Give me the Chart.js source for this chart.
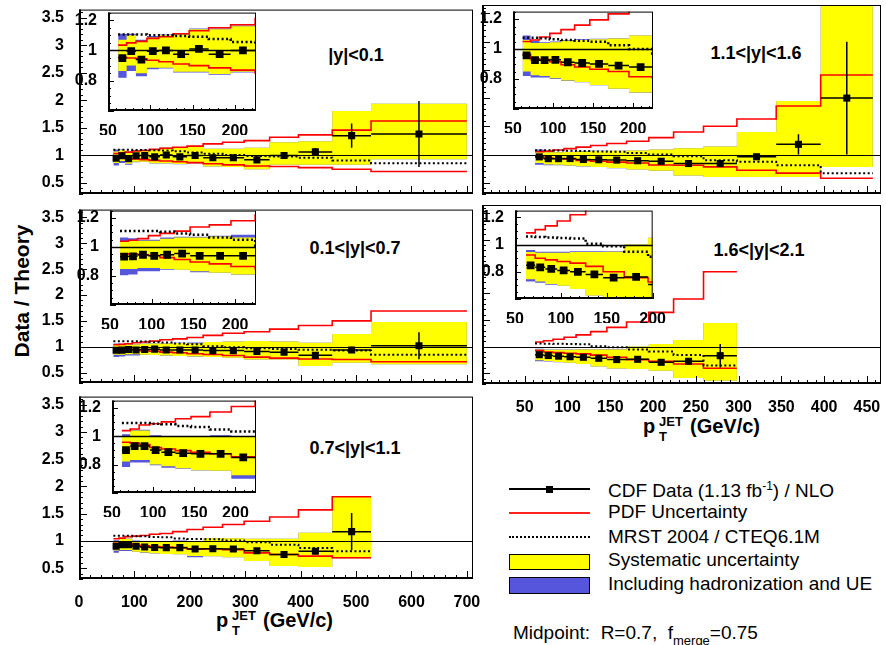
<!DOCTYPE html>
<html>
<head>
<meta charset="utf-8">
<title>Data / Theory</title>
<script src="https://cdn.jsdelivr.net/npm/chart.js@4.4.1/dist/chart.umd.min.js"></script>
<style>
body { margin: 0; background: #fff; }
#wrap { position: relative; width: 886px; height: 645px; overflow: hidden; font-family: "Liberation Sans", Arial, sans-serif; color: #000; }
#wrap canvas { position: absolute; }
.rg { position: absolute; font-weight: bold; font-size: 18px; white-space: nowrap; transform: translate(-50%, -50%); }
.tt { position: absolute; font-weight: bold; white-space: nowrap; line-height: 1; }
.ytitle { position: absolute; left: 22px; top: 291px; transform: translate(-50%, -50%) rotate(-90deg); font-weight: bold; font-size: 21px; white-space: nowrap; }
.leg { position: absolute; left: 608px; font-size: 19px; white-space: pre; line-height: 1; }
.leg sup { font-size: 12px; vertical-align: 7px; }
.sym { position: absolute; left: 509px; width: 81px; box-sizing: border-box; }
</style>
</head>
<body>
<div id="wrap">
  <div class="ytitle">Data / Theory</div>

  <div class="rg" style="left:356px;top:55px">|y|&lt;0.1</div>
  <div class="rg" style="left:756px;top:53px">1.1&lt;|y|&lt;1.6</div>
  <div class="rg" style="left:355px;top:248px">0.1&lt;|y|&lt;0.7</div>
  <div class="rg" style="left:759px;top:250px">1.6&lt;|y|&lt;2.1</div>
  <div class="rg" style="left:355px;top:448px">0.7&lt;|y|&lt;1.1</div>

  <div class="tt" style="left:216px;top:610px;font-size:20px">p</div>
  <div class="tt" style="left:232px;top:609px;font-size:13px">JET</div>
  <div class="tt" style="left:232px;top:624px;font-size:13px">T</div>
  <div class="tt" style="left:263px;top:610px;font-size:20px">(GeV/c)</div>

  <div class="tt" style="left:643px;top:416px;font-size:20px">p</div>
  <div class="tt" style="left:659px;top:415px;font-size:13px">JET</div>
  <div class="tt" style="left:659px;top:430px;font-size:13px">T</div>
  <div class="tt" style="left:690px;top:416px;font-size:20px">(GeV/c)</div>

  <div class="sym" style="top:488px;height:2px;background:#000"></div>
  <div class="sym" style="left:546px;width:7px;top:486px;height:7px;background:#000"></div>
  <div class="leg" style="top:480px">CDF Data (1.13 fb<sup>-1</sup>) / NLO</div>
  <div class="sym" style="top:512px;height:1.5px;background:#ff2020"></div>
  <div class="leg" style="top:502px">PDF Uncertainty</div>
  <div class="sym" style="top:536px;height:0;border-top:2px dotted #000"></div>
  <div class="leg" style="top:527px">MRST 2004 / CTEQ6.1M</div>
  <div class="sym" style="top:554px;height:16px;background:#ffff00;border:1px solid #000"></div>
  <div class="leg" style="top:550px">Systematic uncertainty</div>
  <div class="sym" style="top:577px;height:17px;background:#5656dc;border:1px solid #000"></div>
  <div class="leg" style="top:574px">Including hadronization and UE</div>

  <div class="leg" style="left:513px;top:623px">Midpoint:  R=0.7,  f<span style="font-size:13px;position:relative;top:6px">merge</span>=0.75</div>
</div>

<script>
// bin edges in pT (GeV/c)
var edges = [62, 72, 83, 96, 110, 127, 146, 169, 195, 224, 259, 298, 344, 396, 457, 527, 700];

// tick label lists
var leftX = [0, 100, 200, 300, 400, 500, 600, 700];
var rightX = [50, 100, 150, 200, 250, 300, 350, 400, 450];
var mainY = [0.5, 1, 1.5, 2, 2.5, 3, 3.5];
var insetX = [50, 100, 150, 200];
var insetY = [0.8, 1, 1.2];

// |y|<0.1
var data01  = [0.95, 0.995, 0.94, 0.995, 1.0, 0.975, 1.01, 0.975, 1.0, 0.96, 0.96, 0.92, 1.0, 1.065, 1.36, 1.39];
var stat01  = [0.004, 0.004, 0.004, 0.005, 0.005, 0.005, 0.006, 0.007, 0.009, 0.012, 0.016, 0.022, 0.035, 0.07, 0.22, 0.6];
var sysHi01 = [1.07, 1.1, 1.06, 1.085, 1.1, 1.105, 1.14, 1.14, 1.16, 1.12, 1.12, 1.14, 1.24, 1.26, 1.81, 1.94];
var sysLo01 = [0.865, 0.9, 0.85, 0.885, 0.885, 0.86, 0.86, 0.845, 0.86, 0.8, 0.79, 0.75, 0.83, 0.83, 0.83, 0.93];
var hadHi01 = [1.11, 1.11, 1.07, 1.095, 1.105, 1.11, 1.145, 1.145, 1.165, 1.12, 1.12, 1.14, 1.24, 1.26, 1.81, 1.94];
var hadLo01 = [0.82, 0.865, 0.83, 0.875, 0.88, 0.855, 0.855, 0.84, 0.855, 0.8, 0.79, 0.75, 0.83, 0.83, 0.83, 0.93];
var pdfHi01 = [1.035, 1.05, 1.06, 1.08, 1.09, 1.11, 1.13, 1.15, 1.17, 1.21, 1.24, 1.27, 1.33, 1.375, 1.46, 1.625];
var pdfLo01 = [0.955, 0.95, 0.945, 0.935, 0.925, 0.91, 0.9, 0.885, 0.87, 0.85, 0.83, 0.81, 0.8, 0.78, 0.75, 0.71];
var mrst01  = [1.105, 1.105, 1.105, 1.1, 1.1, 1.095, 1.09, 1.075, 1.055, 1.03, 1.01, 0.99, 0.98, 0.96, 0.91, 0.86];

// 0.1<|y|<0.7
var data07  = [0.933, 0.935, 0.946, 0.939, 0.946, 0.954, 0.939, 0.939, 0.939, 0.926, 0.926, 0.908, 0.896, 0.834, 0.939, 1.02];
var stat07  = [0.004, 0.004, 0.004, 0.005, 0.005, 0.005, 0.006, 0.007, 0.009, 0.011, 0.014, 0.02, 0.03, 0.04, 0.06, 0.26];
var sysHi07 = [1.04, 1.04, 1.043, 1.043, 1.057, 1.065, 1.065, 1.072, 1.065, 1.09, 1.1, 1.11, 1.1, 1.08, 1.245, 1.48];
var sysLo07 = [0.848, 0.848, 0.854, 0.854, 0.848, 0.843, 0.833, 0.822, 0.81, 0.8, 0.79, 0.755, 0.755, 0.63, 0.69, 0.66];
var hadHi07 = [1.065, 1.06, 1.05, 1.05, 1.065, 1.07, 1.07, 1.076, 1.083, 1.09, 1.1, 1.11, 1.1, 1.08, 1.245, 1.48];
var hadLo07 = [0.804, 0.81, 0.833, 0.833, 0.843, 0.843, 0.826, 0.82, 0.808, 0.8, 0.79, 0.755, 0.755, 0.63, 0.69, 0.66];
var pdfHi07 = [1.039, 1.046, 1.057, 1.078, 1.093, 1.109, 1.137, 1.152, 1.18, 1.22, 1.26, 1.29, 1.34, 1.41, 1.5, 1.69];
var pdfLo07 = [0.952, 0.952, 0.946, 0.941, 0.926, 0.913, 0.896, 0.883, 0.865, 0.85, 0.83, 0.8, 0.78, 0.765, 0.755, 0.71];
var mrst07  = [1.109, 1.109, 1.109, 1.109, 1.104, 1.093, 1.083, 1.065, 1.05, 1.01, 0.99, 0.97, 0.957, 0.94, 0.926, 0.847];

// 0.7<|y|<1.1
var data11  = [0.902, 0.93, 0.93, 0.902, 0.887, 0.88, 0.876, 0.876, 0.85, 0.856, 0.85, 0.82, 0.75, 0.81, 1.17];
var stat11  = [0.004, 0.004, 0.005, 0.005, 0.005, 0.006, 0.007, 0.008, 0.01, 0.012, 0.015, 0.02, 0.03, 0.06, 0.34];
var sysHi11 = [1.0, 1.039, 1.039, 1.0, 0.996, 0.996, 0.996, 1.0, 0.996, 1.05, 1.05, 1.04, 1.04, 1.15, 1.81];
var sysLo11 = [0.822, 0.833, 0.833, 0.8, 0.789, 0.774, 0.76, 0.756, 0.724, 0.72, 0.7, 0.63, 0.54, 0.52, 0.68];
var hadHi11 = [1.013, 1.045, 1.045, 1.006, 1.0, 0.998, 0.998, 1.006, 0.998, 1.05, 1.05, 1.04, 1.04, 1.15, 1.81];
var hadLo11 = [0.783, 0.815, 0.815, 0.796, 0.778, 0.77, 0.758, 0.754, 0.7, 0.72, 0.7, 0.63, 0.54, 0.52, 0.68];
var pdfHi11 = [1.039, 1.05, 1.078, 1.087, 1.1, 1.122, 1.137, 1.17, 1.209, 1.25, 1.3, 1.36, 1.44, 1.57, 1.81];
var pdfLo11 = [0.957, 0.952, 0.941, 0.92, 0.909, 0.898, 0.887, 0.876, 0.854, 0.85, 0.84, 0.78, 0.75, 0.72, 0.69];
var mrst11  = [1.093, 1.093, 1.093, 1.087, 1.083, 1.072, 1.065, 1.046, 1.033, 1.03, 1.005, 0.976, 0.93, 0.87, 0.81];

// 1.1<|y|<1.6
var data16  = [0.958, 0.926, 0.926, 0.928, 0.912, 0.907, 0.901, 0.89, 0.88, 0.84, 0.84, 0.96, 1.18, 2.0];
var stat16  = [0.005, 0.005, 0.005, 0.006, 0.006, 0.007, 0.008, 0.01, 0.012, 0.016, 0.022, 0.04, 0.18, 1.0];
var sysHi16 = [1.06, 1.04, 1.04, 1.045, 1.055, 1.06, 1.065, 1.07, 1.09, 1.11, 1.14, 1.4, 1.95, 3.8];
var sysLo16 = [0.85, 0.825, 0.82, 0.805, 0.79, 0.78, 0.76, 0.735, 0.71, 0.63, 0.6, 0.6, 0.6, 0.78];
var hadHi16 = [1.09, 1.055, 1.045, 1.05, 1.06, 1.065, 1.068, 1.072, 1.09, 1.11, 1.14, 1.4, 1.95, 3.8];
var hadLo16 = [0.82, 0.81, 0.81, 0.8, 0.787, 0.778, 0.758, 0.733, 0.708, 0.63, 0.6, 0.6, 0.6, 0.78];
var pdfHi16 = [1.05, 1.06, 1.08, 1.105, 1.13, 1.16, 1.195, 1.235, 1.3, 1.4, 1.5, 1.63, 1.86, 2.41];
var pdfLo16 = [0.965, 0.935, 0.93, 0.915, 0.895, 0.88, 0.865, 0.85, 0.815, 0.81, 0.78, 0.72, 0.67, 0.58];
var mrst16  = [1.075, 1.075, 1.072, 1.065, 1.06, 1.055, 1.048, 1.025, 1.0, 0.97, 0.9, 0.87, 0.81, 0.67];

// 1.6<|y|<2.1
var data21  = [0.848, 0.833, 0.821, 0.81, 0.8, 0.781, 0.757, 0.762, 0.706, 0.725, 0.83];
var stat21  = [0.005, 0.005, 0.006, 0.006, 0.007, 0.008, 0.01, 0.012, 0.016, 0.025, 0.22];
var sysHi21 = [0.945, 0.94, 0.94, 0.94, 0.945, 0.945, 0.948, 1.0, 1.05, 1.125, 1.44];
var sysLo21 = [0.745, 0.729, 0.71, 0.698, 0.674, 0.626, 0.59, 0.58, 0.55, 0.41, 0.36];
var hadHi21 = [0.96, 0.948, 0.948, 0.948, 0.952, 0.952, 0.952, 1.0, 1.05, 1.125, 1.44];
var hadLo21 = [0.728, 0.72, 0.705, 0.698, 0.674, 0.626, 0.59, 0.58, 0.55, 0.41, 0.36];
var pdfHi21 = [1.086, 1.11, 1.138, 1.174, 1.22, 1.28, 1.36, 1.46, 1.64, 1.89, 2.4];
var pdfLo21 = [0.924, 0.9, 0.888, 0.876, 0.864, 0.84, 0.8, 0.757, 0.725, 0.675, 0.594];
var mrst21  = [1.06, 1.055, 1.052, 1.048, 1.045, 1.007, 0.988, 0.948, 0.91, 0.845, 0.645];

Chart.defaults.font.family = 'Liberation Sans';
var tickFont = { family: 'Liberation Sans', size: 16, weight: 'bold' };

// histogram as stepped line: one point per lower bin edge + closing edge
function steps(vals) {
  var pts = [];
  for (var i = 0; i < vals.length; i++) pts.push({ x: edges[i], y: vals[i] });
  pts.push({ x: edges[vals.length], y: vals[vals.length - 1] });
  return pts;
}

function dataPoints(vals, stat) {
  return vals.map(function (v, i) {
    return { x: (edges[i] + edges[i + 1]) / 2, y: v, xLo: edges[i], xHi: edges[i + 1], yLo: v - stat[i], yHi: v + stat[i] };
  });
}

function buildSets(vals, stat, sysHi, sysLo, hadHi, hadLo, pdfHi, pdfLo, mrst, inset) {
  function line(v, extra) {
    return Object.assign({ data: steps(v), stepped: true, pointRadius: 0, pointHitRadius: 0, clip: 0, fill: false }, extra);
  }
  return [
    { label: 'CDF Data', data: dataPoints(vals, stat), showLine: false, clip: 0, borderWidth: 0,
      pointStyle: 'rect', pointRadius: inset ? 5.5 : 5, pointBackgroundColor: '#000', pointBorderWidth: 0 },
    line(mrst, { label: 'MRST', borderColor: '#000', borderWidth: inset ? 2.5 : 2, borderDash: [2, 2.5] }),
    line(pdfHi, { label: 'PDF up', borderColor: '#ff0000', borderWidth: 1.6 }),
    line(pdfLo, { label: 'PDF down', borderColor: '#ff0000', borderWidth: 1.6 }),
    line(sysHi, { label: 'Sys up', borderWidth: 0, borderColor: 'rgba(0,0,0,0)', fill: '+1', backgroundColor: '#ffff00' }),
    line(sysLo, { label: 'Sys down', borderWidth: 0, borderColor: 'rgba(0,0,0,0)' }),
    line(hadHi, { label: 'Had up', borderWidth: 0, borderColor: 'rgba(0,0,0,0)', fill: '+1', backgroundColor: '#5656dc' }),
    line(hadLo, { label: 'Had down', borderWidth: 0, borderColor: 'rgba(0,0,0,0)' })
  ];
}

// error bars and the line at 1
var errorBars = {
  id: 'errorBars',
  beforeDatasetDraw: function (chart, args, o) {
    var ctx = chart.ctx, xs = chart.scales.x, ys = chart.scales.y, a = chart.chartArea;
    if (args.index !== 3 && args.index !== 0) return;
    ctx.save();
    ctx.beginPath();
    ctx.rect(a.left, a.top, a.right - a.left, a.bottom - a.top);
    ctx.clip();
    ctx.strokeStyle = '#000';
    if (args.index === 3) {
      var y1 = Math.round(ys.getPixelForValue(1)) + 0.5;
      ctx.lineWidth = o.unity;
      ctx.beginPath();
      ctx.moveTo(a.left, y1);
      ctx.lineTo(a.right, y1);
      ctx.stroke();
    } else {
      ctx.lineWidth = 1.5;
      ctx.beginPath();
      chart.data.datasets[0].data.forEach(function (p) {
        var px = xs.getPixelForValue(p.x), py = ys.getPixelForValue(p.y);
        ctx.moveTo(xs.getPixelForValue(p.xLo), py);
        ctx.lineTo(xs.getPixelForValue(p.xHi), py);
        ctx.moveTo(px, ys.getPixelForValue(p.yLo));
        ctx.lineTo(px, ys.getPixelForValue(p.yHi));
      });
      ctx.stroke();
    }
    ctx.restore();
  }
};

// ROOT-like frame with inward ticks
var rootFrame = {
  id: 'rootFrame',
  beforeDraw: function (chart, args, o) {
    if (!o.white) return;
    var a = chart.chartArea, ctx = chart.ctx;
    ctx.save();
    ctx.fillStyle = '#fff';
    ctx.fillRect(a.left, a.top, a.right - a.left, a.bottom - a.top);
    ctx.restore();
  },
  afterDraw: function (chart, args, o) {
    var a = chart.chartArea, ctx = chart.ctx, xs = chart.scales.x, ys = chart.scales.y;
    var k, v, p, len;
    ctx.save();
    ctx.strokeStyle = '#000';
    ctx.lineWidth = 1;
    ctx.strokeRect(a.left + 0.5, a.top + 0.5, a.right - a.left - 1, a.bottom - a.top - 1);
    ctx.lineWidth = 2;
    ctx.beginPath();
    ctx.moveTo(a.left + 1, a.top);
    ctx.lineTo(a.left + 1, a.bottom);
    ctx.moveTo(a.left, a.bottom - 1);
    ctx.lineTo(a.right, a.bottom - 1);
    ctx.stroke();
    ctx.lineWidth = 1;
    ctx.beginPath();
    for (k = Math.ceil(xs.min / o.xMinor - 1e-6); k * o.xMinor <= xs.max + 1e-6; k++) {
      v = k * o.xMinor;
      p = Math.round(xs.getPixelForValue(v)) + 0.5;
      len = Math.abs(v / o.xMajor - Math.round(v / o.xMajor)) < 1e-6 ? o.len : o.len / 2;
      ctx.moveTo(p, a.bottom);
      ctx.lineTo(p, a.bottom - len);
    }
    for (k = Math.ceil(ys.min / o.yMinor - 1e-6); k * o.yMinor <= ys.max + 1e-6; k++) {
      v = k * o.yMinor;
      p = Math.round(ys.getPixelForValue(v)) + 0.5;
      len = Math.abs(v / o.yMajor - Math.round(v / o.yMajor)) < 1e-6 ? o.len : o.len / 2;
      ctx.moveTo(a.left, p);
      ctx.lineTo(a.left + len, p);
    }
    ctx.stroke();
    ctx.restore();
  }
};

// frame = [left, top, width, height] of plot area; pad = [left, right, top, bottom]
function makeChart(frame, pad, sets, ax) {
  var cv = document.createElement('canvas');
  var w = frame[2] + pad[0] + pad[1], h = frame[3] + pad[2] + pad[3];
  cv.width = w;
  cv.height = h;
  cv.style.left = (frame[0] - pad[0]) + 'px';
  cv.style.top = (frame[1] - pad[2]) + 'px';
  cv.style.width = w + 'px';
  cv.style.height = h + 'px';
  document.getElementById('wrap').appendChild(cv);
  return new Chart(cv, {
    type: 'line',
    data: { datasets: sets },
    options: {
      responsive: false,
      animation: false,
      devicePixelRatio: 1,
      layout: { padding: { left: 0, right: pad[1], top: pad[2], bottom: 0 } },
      plugins: {
        legend: { display: false },
        tooltip: { enabled: false },
        rootFrame: { white: ax.white, xMajor: ax.xMajor, xMinor: ax.xMinor, yMajor: ax.yMajor, yMinor: ax.yMinor, len: ax.len },
        errorBars: { unity: ax.white ? 1.5 : 1 }
      },
      scales: {
        x: {
          type: 'linear', min: ax.x[0], max: ax.x[1],
          grid: { display: false }, border: { display: false },
          ticks: { display: ax.xlab, font: tickFont, color: '#000', padding: ax.xpad, maxRotation: 0, minRotation: 0, autoSkip: false,
                   callback: function (v) { return String(v); } },
          afterBuildTicks: function (s) { s.ticks = ax.xt.map(function (v) { return { value: v }; }); },
          afterFit: function (s) { s.height = pad[3]; }
        },
        y: {
          type: 'linear', min: ax.y[0], max: ax.y[1],
          grid: { display: false }, border: { display: false },
          ticks: { display: ax.ylab, font: tickFont, color: '#000', padding: ax.ypad, autoSkip: false,
                   callback: function (v) { return String(v); } },
          afterBuildTicks: function (s) { s.ticks = ax.yt.map(function (v) { return { value: v }; }); },
          afterFit: function (s) { s.width = pad[0]; }
        }
      }
    },
    plugins: [rootFrame, errorBars]
  });
}

function mainAxes(right, xlab, ylab) {
  return { x: right ? [0, 466.5] : [0, 711], y: [0.3, 3.65], xt: right ? rightX : leftX, yt: mainY,
           xlab: xlab, ylab: ylab, xpad: 6, ypad: 7, xMajor: right ? 50 : 100, xMinor: right ? 10 : 20,
           yMajor: 0.5, yMinor: 0.1, len: 8, white: false };
}
function insetAxes(xmax) {
  return { x: [50, xmax], y: [0.6, 1.25], xt: insetX, yt: insetY, xlab: true, ylab: true, xpad: 3, ypad: 3,
           xMajor: 50, xMinor: 10, yMajor: 0.2, yMinor: 0.05, len: 6, white: true };
}

// main panels
makeChart([79, 5, 394, 189], [60, 20, 12, 40],
  buildSets(data01, stat01, sysHi01, sysLo01, hadHi01, hadLo01, pdfHi01, pdfLo01, mrst01, false), mainAxes(false, false, true));
makeChart([482, 5, 399, 189], [10, 20, 12, 40],
  buildSets(data16, stat16, sysHi16, sysLo16, hadHi16, hadLo16, pdfHi16, pdfLo16, mrst16, false), mainAxes(true, false, false));
makeChart([79, 205, 394, 178], [60, 20, 12, 40],
  buildSets(data07, stat07, sysHi07, sysLo07, hadHi07, hadLo07, pdfHi07, pdfLo07, mrst07, false), mainAxes(false, false, true));
makeChart([482, 205, 399, 179], [10, 20, 12, 40],
  buildSets(data21, stat21, sysHi21, sysLo21, hadHi21, hadLo21, pdfHi21, pdfLo21, mrst21, false), mainAxes(true, true, false));
makeChart([79, 392, 394, 187], [60, 20, 12, 40],
  buildSets(data11, stat11, sysHi11, sysLo11, hadHi11, hadLo11, pdfHi11, pdfLo11, mrst11, false), mainAxes(false, true, true));

// insets (low pT zoom)
makeChart([108, 10, 148, 101], [34, 16, 10, 24],
  buildSets(data01, stat01, sysHi01, sysLo01, hadHi01, hadLo01, pdfHi01, pdfLo01, mrst01, true), insetAxes(225));
makeChart([513, 9, 140, 100], [34, 16, 10, 24],
  buildSets(data16, stat16, sysHi16, sysLo16, hadHi16, hadLo16, pdfHi16, pdfLo16, mrst16, true), insetAxes(225));
makeChart([110, 208, 146, 97], [34, 16, 10, 24],
  buildSets(data07, stat07, sysHi07, sysLo07, hadHi07, hadLo07, pdfHi07, pdfLo07, mrst07, true), insetAxes(225));
makeChart([515, 208, 138, 91], [34, 16, 10, 24],
  buildSets(data21, stat21, sysHi21, sysLo21, hadHi21, hadLo21, pdfHi21, pdfLo21, mrst21, true), insetAxes(200));
makeChart([112, 398, 144, 95], [34, 16, 10, 24],
  buildSets(data11, stat11, sysHi11, sysLo11, hadHi11, hadLo11, pdfHi11, pdfLo11, mrst11, true), insetAxes(225));
</script>
</body>
</html>
